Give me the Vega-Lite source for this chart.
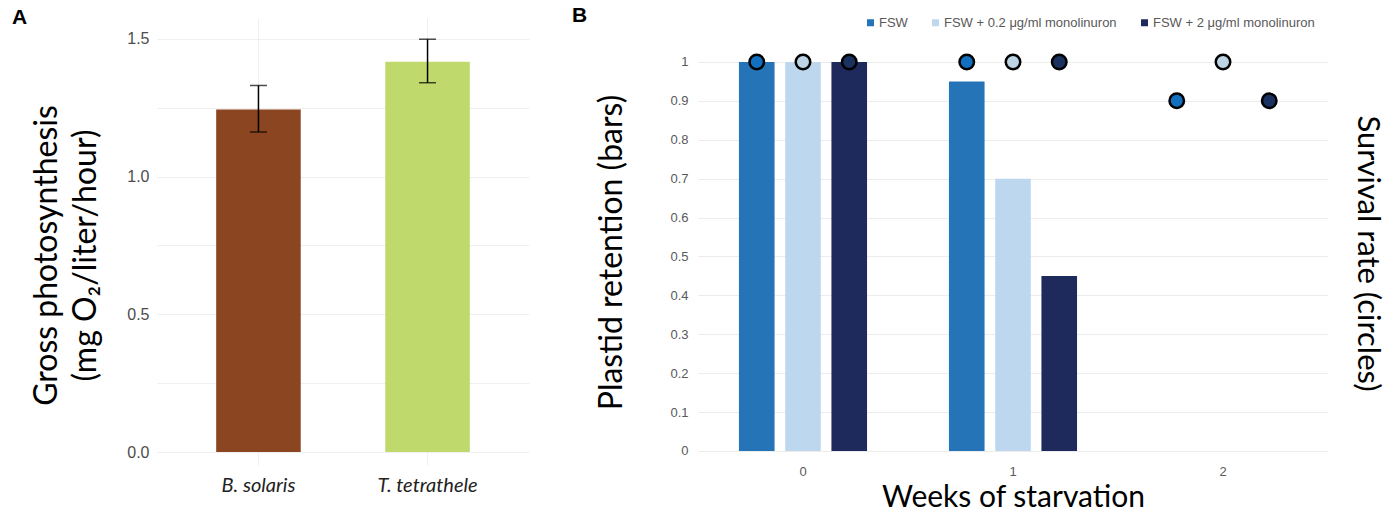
{
  "$schema": "https://vega.github.io/schema/vega-lite/v6.json",
  "background": "white",
  "padding": {"left": 12, "top": 5, "right": 5, "bottom": 5},
  "spacing": 43,
  "config": {"view": {"stroke": null}, "font": "Lato"},
  "resolve": {"scale": {"color": "independent"}, "legend": {"color": "independent"}},
  "hconcat": [
    {
      "width": 372,
      "height": 447,
      "title": {"text": "A", "anchor": "start", "frame": "group", "dx": -145, "offset": -10, "fontSize": 21, "fontWeight": "bold", "font": "Liberation Sans", "color": "black"},
      "data": {"values": [
        {"species": "B. solaris", "gp": 1.244, "lo": 1.162, "hi": 1.331},
        {"species": "T. tetrathele", "gp": 1.417, "lo": 1.341, "hi": 1.499}
      ]},
      "encoding": {
        "x": {"field": "species", "type": "nominal", "sort": null,
          "scale": {"paddingInner": 0.5, "paddingOuter": 0.35},
          "axis": {"title": null, "labelAngle": 0, "ticks": false, "domain": false, "grid": true, "gridColor": "#efefef", "bandPosition": 0.5,
            "labelFont": "Lato", "labelFontStyle": "italic", "labelFontSize": 20, "labelColor": "#222222", "labelPadding": 10}}
      },
      "layer": [
        {"mark": {"type": "bar"},
         "encoding": {
           "y": {"field": "gp", "type": "quantitative", "stack": null,
             "scale": {"domain": [-0.047, 1.576], "nice": false, "zero": false},
             "axis": {"values": [0, 0.25, 0.5, 0.75, 1, 1.25, 1.5],
               "labelExpr": "datum.value % 0.5 == 0 ? format(datum.value, '.1f') : ''",
               "ticks": false, "domain": false, "grid": true, "gridColor": "#efefef",
               "labelFont": "Liberation Sans", "labelFontSize": 16, "labelColor": "#4d4d4d", "labelPadding": 8,
               "title": ["Gross photosynthesis", "(mg O₂/liter/hour)"], "titleFont": "Lato", "titleFontSize": 32, "titleFontWeight": "normal", "titleColor": "black", "titlePadding": 24, "titleLineHeight": 39, "titleY": 237}},
           "y2": {"datum": 0},
           "color": {"field": "species", "type": "nominal", "sort": null, "scale": {"range": ["#8b4520", "#c0d96c"]}, "legend": null}
         }},
        {"mark": {"type": "rule", "color": "black", "strokeWidth": 1.5},
         "encoding": {"y": {"field": "lo", "type": "quantitative"}, "y2": {"field": "hi"}}},
        {"mark": {"type": "tick", "color": "black", "thickness": 1.5, "size": 17},
         "encoding": {"y": {"field": "lo", "type": "quantitative"}}},
        {"mark": {"type": "tick", "color": "black", "thickness": 1.5, "size": 17},
         "encoding": {"y": {"field": "hi", "type": "quantitative"}}}
      ]
    },
    {
      "width": 630,
      "height": 447,
      "title": {"text": "B", "anchor": "start", "frame": "group", "dx": -126, "offset": -10, "fontSize": 21, "fontWeight": "bold", "font": "Liberation Sans", "color": "black"},
      "data": {"values": [
        {"week": 0, "treatment": "FSW", "retention": 1.0, "survival": 1.0},
        {"week": 0, "treatment": "FSW + 0.2 μg/ml monolinuron", "retention": 1.0, "survival": 1.0},
        {"week": 0, "treatment": "FSW + 2 μg/ml monolinuron", "retention": 1.0, "survival": 1.0},
        {"week": 1, "treatment": "FSW", "retention": 0.95, "survival": 1.0},
        {"week": 1, "treatment": "FSW + 0.2 μg/ml monolinuron", "retention": 0.70, "survival": 1.0},
        {"week": 1, "treatment": "FSW + 2 μg/ml monolinuron", "retention": 0.45, "survival": 1.0},
        {"week": 2, "treatment": "FSW", "retention": null, "survival": 0.9},
        {"week": 2, "treatment": "FSW + 0.2 μg/ml monolinuron", "retention": null, "survival": 1.0},
        {"week": 2, "treatment": "FSW + 2 μg/ml monolinuron", "retention": null, "survival": 0.9}
      ]},
      "encoding": {
        "x": {"field": "week", "type": "ordinal",
          "scale": {"paddingInner": 0.39, "paddingOuter": 0.195},
          "axis": {"title": "Weeks of starvation", "labelAngle": 0, "ticks": false, "domain": false, "offset": -14, "labelPadding": 14,
            "labelFont": "Liberation Sans", "labelFontSize": 13, "labelColor": "#595959",
            "titleFont": "Lato", "titleFontSize": 30, "titleFontWeight": "normal", "titleColor": "black", "titlePadding": 4}},
        "xOffset": {"field": "treatment", "type": "nominal", "scale": {"paddingInner": 0.23, "paddingOuter": 0}}
      },
      "layer": [
        {"mark": {"type": "bar"},
         "encoding": {
           "y": {"field": "retention", "type": "quantitative", "stack": null,
             "scale": {"domain": [-0.036, 1.113], "nice": false, "zero": false},
             "axis": {"values": [0, 0.1, 0.2, 0.3, 0.4, 0.5, 0.6, 0.7, 0.8, 0.9, 1], "format": "~g",
               "ticks": false, "domain": false, "grid": true, "gridColor": "#ececec",
               "labelFont": "Liberation Sans", "labelFontSize": 13, "labelColor": "#595959", "labelPadding": 10,
               "title": "Plastid retention (bars)", "titleFont": "Lato", "titleFontSize": 32, "titleFontWeight": "normal", "titleColor": "black", "titlePadding": 41, "titleY": 234}},
           "y2": {"datum": 0},
           "color": {"field": "treatment", "type": "nominal",
             "scale": {"range": ["#2574b7", "#bdd7ee", "#1f2a5c"]},
             "legend": {"orient": "none", "legendX": 166, "legendY": -2, "direction": "horizontal", "title": null,
               "symbolType": "square", "symbolSize": 49, "labelFont": "Liberation Sans", "labelFontSize": 13, "labelColor": "#595959",
               "labelLimit": 400, "columnPadding": 21, "labelOffset": 2}}
         }},
        {"mark": {"type": "point", "shape": "circle", "filled": true, "size": 210, "stroke": "black", "strokeWidth": 2.5, "opacity": 1},
         "encoding": {
           "y": {"field": "survival", "type": "quantitative",
             "scale": {"domain": [-0.036, 1.113], "nice": false, "zero": false},
             "axis": {"orient": "right", "labels": false, "ticks": false, "domain": false, "grid": false,
               "title": "Survival rate (circles)", "titleFont": "Lato", "titleFontSize": 31, "titleFontWeight": "normal", "titleColor": "black", "titlePadding": 22, "titleY": 235}},
           "fill": {"field": "treatment", "type": "nominal", "scale": {"range": ["#1170c0", "#bdd4e4", "#1b3260"]}, "legend": null}
         }}
      ],
      "resolve": {"scale": {"y": "independent"}}
    }
  ]
}
